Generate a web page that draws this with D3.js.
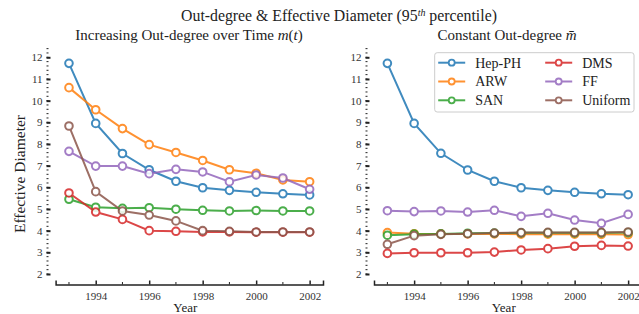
<!DOCTYPE html>
<html>
<head>
<meta charset="utf-8">
<script src="https://cdn.jsdelivr.net/npm/d3@7"></script>
<style>
  body { margin: 0; background: #fff; }
</style>
</head>
<body>
<svg width="639" height="314"></svg>
<script>
// data
var years = [1993, 1994, 1995, 1996, 1997, 1998, 1999, 2000, 2001, 2002];
var seriesNames = ["Hep-PH", "ARW", "SAN", "DMS", "FF", "Uniform"];
var seriesColors = ["#1f77b4", "#ff7f0e", "#2ca02c", "#d62728", "#9467bd", "#8c564b"];

// left panel: increasing out-degree
var hepLeft  = [11.72, 8.95, 7.56, 6.81, 6.28, 5.98, 5.86, 5.77, 5.70, 5.65];
var arwLeft  = [10.60, 9.58, 8.71, 7.97, 7.61, 7.24, 6.81, 6.65, 6.34, 6.26];
var sanLeft  = [5.45, 5.08, 5.03, 5.06, 4.99, 4.94, 4.91, 4.93, 4.91, 4.91];
var dmsLeft  = [5.74, 4.86, 4.52, 4.00, 3.97, 3.94, 3.94, 3.93, 3.93, 3.93];
var ffLeft   = [7.66, 6.98, 6.98, 6.63, 6.83, 6.71, 6.26, 6.57, 6.43, 5.91];
var uniLeft  = [8.83, 5.80, 4.91, 4.72, 4.45, 4.00, 3.97, 3.94, 3.94, 3.94];

// right panel: constant out-degree
var hepRight = [11.72, 8.95, 7.57, 6.80, 6.28, 5.98, 5.86, 5.77, 5.70, 5.66];
var arwRight = [3.91, 3.86, 3.85, 3.85, 3.85, 3.84, 3.84, 3.84, 3.83, 3.82];
var sanRight = [3.79, 3.84, 3.85, 3.88, 3.89, 3.90, 3.90, 3.90, 3.90, 3.91];
var dmsRight = [2.95, 2.98, 2.98, 2.98, 3.01, 3.11, 3.17, 3.28, 3.32, 3.29];
var ffRight  = [4.92, 4.88, 4.91, 4.86, 4.94, 4.66, 4.80, 4.49, 4.34, 4.75];
var uniRight = [3.37, 3.77, 3.83, 3.86, 3.89, 3.91, 3.92, 3.92, 3.92, 3.94];

var yTicks = [2, 3, 4, 5, 6, 7, 8, 9, 10, 11, 12];
var xTicks = [1994, 1996, 1998, 2000, 2002];

var FONT = '"Liberation Serif", "Times New Roman", "DejaVu Serif", serif';

var svg = d3.select("svg").attr("font-family", FONT);

var y = d3.scaleLinear().domain([2, 12]).range([274, 57.3]);

function panel(x0, x1, yAxisX, series, subtitle) {
    var x = d3.scaleLinear().domain([1992.5, 2002.5]).range([x0, x1]);
    var g = svg.append("g");

    // x axis
    var xAxis = d3.axisBottom(x).tickValues(xTicks).tickSize(-4).tickFormat(d3.format("d"));
    var gx = g.append("g").attr("transform", "translate(0,284.5)").call(xAxis)
        .attr("font-family", FONT).attr("font-size", 11);
    gx.select(".domain").attr("stroke", "#222").attr("stroke-width", 1.5);
    gx.selectAll(".tick line").attr("stroke", "#222").attr("stroke-width", 1.5);
    gx.selectAll(".tick text").attr("y", 3).attr("dy", "1.1em").attr("fill", "#333");
    // minor ticks
    g.append("g").selectAll("line")
        .data(years.filter(function (d) { return d % 2 == 1; }))
        .enter().append("line")
        .attr("x1", function (d) { return x(d); }).attr("x2", function (d) { return x(d); })
        .attr("y1", 284.5).attr("y2", 282)
        .attr("stroke", "#222").attr("stroke-width", 1);

    // y axis: dotted minor ticks + bold major ticks
    var minor = d3.range(2, 12.41, 0.2);
    g.append("g").selectAll("line")
        .data(minor).enter().append("line")
        .attr("x1", yAxisX).attr("x2", yAxisX + 2)
        .attr("y1", function (d) { return y(d); }).attr("y2", function (d) { return y(d); })
        .attr("stroke", "#222").attr("stroke-width", 1);
    var yAxis = d3.axisRight(y).tickValues(yTicks).tickSize(4).tickFormat(d3.format("d"));
    var gy = g.append("g").attr("transform", "translate(" + yAxisX + ",0)").call(yAxis)
        .attr("font-family", FONT).attr("font-size", 11);
    gy.select(".domain").remove();
    gy.selectAll(".tick line").attr("stroke", "#222").attr("stroke-width", 2);
    gy.selectAll(".tick text").attr("x", -4).attr("text-anchor", "end").attr("fill", "#333");

    // series
    var line = d3.line().x(function (d, i) { return x(years[i]); }).y(function (d) { return y(d); });
    series.forEach(function (vals, k) {
        var sg = g.append("g").attr("opacity", 0.85);
        sg.append("path").datum(vals).attr("d", line)
            .attr("fill", "none").attr("stroke", seriesColors[k]).attr("stroke-width", 2);
        sg.selectAll("circle").data(vals).enter().append("circle")
            .attr("cx", function (d, i) { return x(years[i]); })
            .attr("cy", function (d) { return y(d); })
            .attr("r", 3.8)
            .attr("fill", "#fff").attr("stroke", seriesColors[k]).attr("stroke-width", 2);
    });

    // x label
    g.append("text").attr("x", (x0 + x1) / 2 - 4).attr("y", 312)
        .attr("text-anchor", "middle").attr("font-size", 13).attr("fill", "#222").text("Year");
    subtitle(g);
}

panel(55.6, 323, 46.5,
      [hepLeft, arwLeft, sanLeft, dmsLeft, ffLeft, uniLeft],
      function (g) {
          var t = g.append("text").attr("x", 189).attr("y", 40)
              .attr("text-anchor", "middle").attr("font-size", 15).attr("fill", "#222");
          t.append("tspan").text("Increasing Out-degree over Time ");
          t.append("tspan").attr("font-style", "italic").text("m");
          t.append("tspan").text("(");
          t.append("tspan").attr("font-style", "italic").text("t");
          t.append("tspan").text(")");
      });

panel(374, 641.5, 365.5,
      [hepRight, arwRight, sanRight, dmsRight, ffRight, uniRight],
      function (g) {
          var t = g.append("text").attr("x", 507).attr("y", 40)
              .attr("text-anchor", "middle").attr("font-size", 15).attr("fill", "#222");
          t.append("tspan").text("Constant Out-degree ");
          t.append("tspan").attr("font-style", "italic").text("m\u0304");
      });

// y label
svg.append("text")
    .attr("transform", "translate(25,174) rotate(-90)")
    .attr("text-anchor", "middle").attr("font-size", 15.5).attr("fill", "#222")
    .text("Effective Diameter");

// main title
var title = svg.append("text").attr("x", 339).attr("y", 21)
    .attr("text-anchor", "middle").attr("font-size", 15.8).attr("fill", "#222");
title.append("tspan").text("Out-degree & Effective Diameter (95");
title.append("tspan").attr("dy", -5).attr("font-size", 10).attr("font-style", "italic").text("th");
title.append("tspan").attr("dy", 5).text(" percentile)");

// legend
var legend = svg.append("g").attr("transform", "translate(434.7,52.7)");
legend.append("rect").attr("width", 199.3).attr("height", 59.3)
    .attr("rx", 2.5).attr("fill", "#fff").attr("fill-opacity", 0.8)
    .attr("stroke", "#ccc").attr("stroke-width", 1);
seriesNames.forEach(function (name, k) {
    var col = Math.floor(k / 3), row = k % 3;
    var lg = legend.append("g")
        .attr("transform", "translate(" + (col * 107) + "," + (10 + row * 18.8) + ")");
    var sg = lg.append("g").attr("opacity", 0.85);
    sg.append("line").attr("x1", 3.5).attr("x2", 30.5).attr("y1", 0).attr("y2", 0)
        .attr("stroke", seriesColors[k]).attr("stroke-width", 2);
    sg.append("circle").attr("cx", 17).attr("cy", 0).attr("r", 3)
        .attr("fill", "#fff").attr("stroke", seriesColors[k]).attr("stroke-width", 1.8);
    lg.append("text").attr("x", 40.5).attr("y", 0).attr("dy", "0.35em")
        .attr("font-size", 14).attr("fill", "#222").text(name);
});
</script>
</body>
</html>
